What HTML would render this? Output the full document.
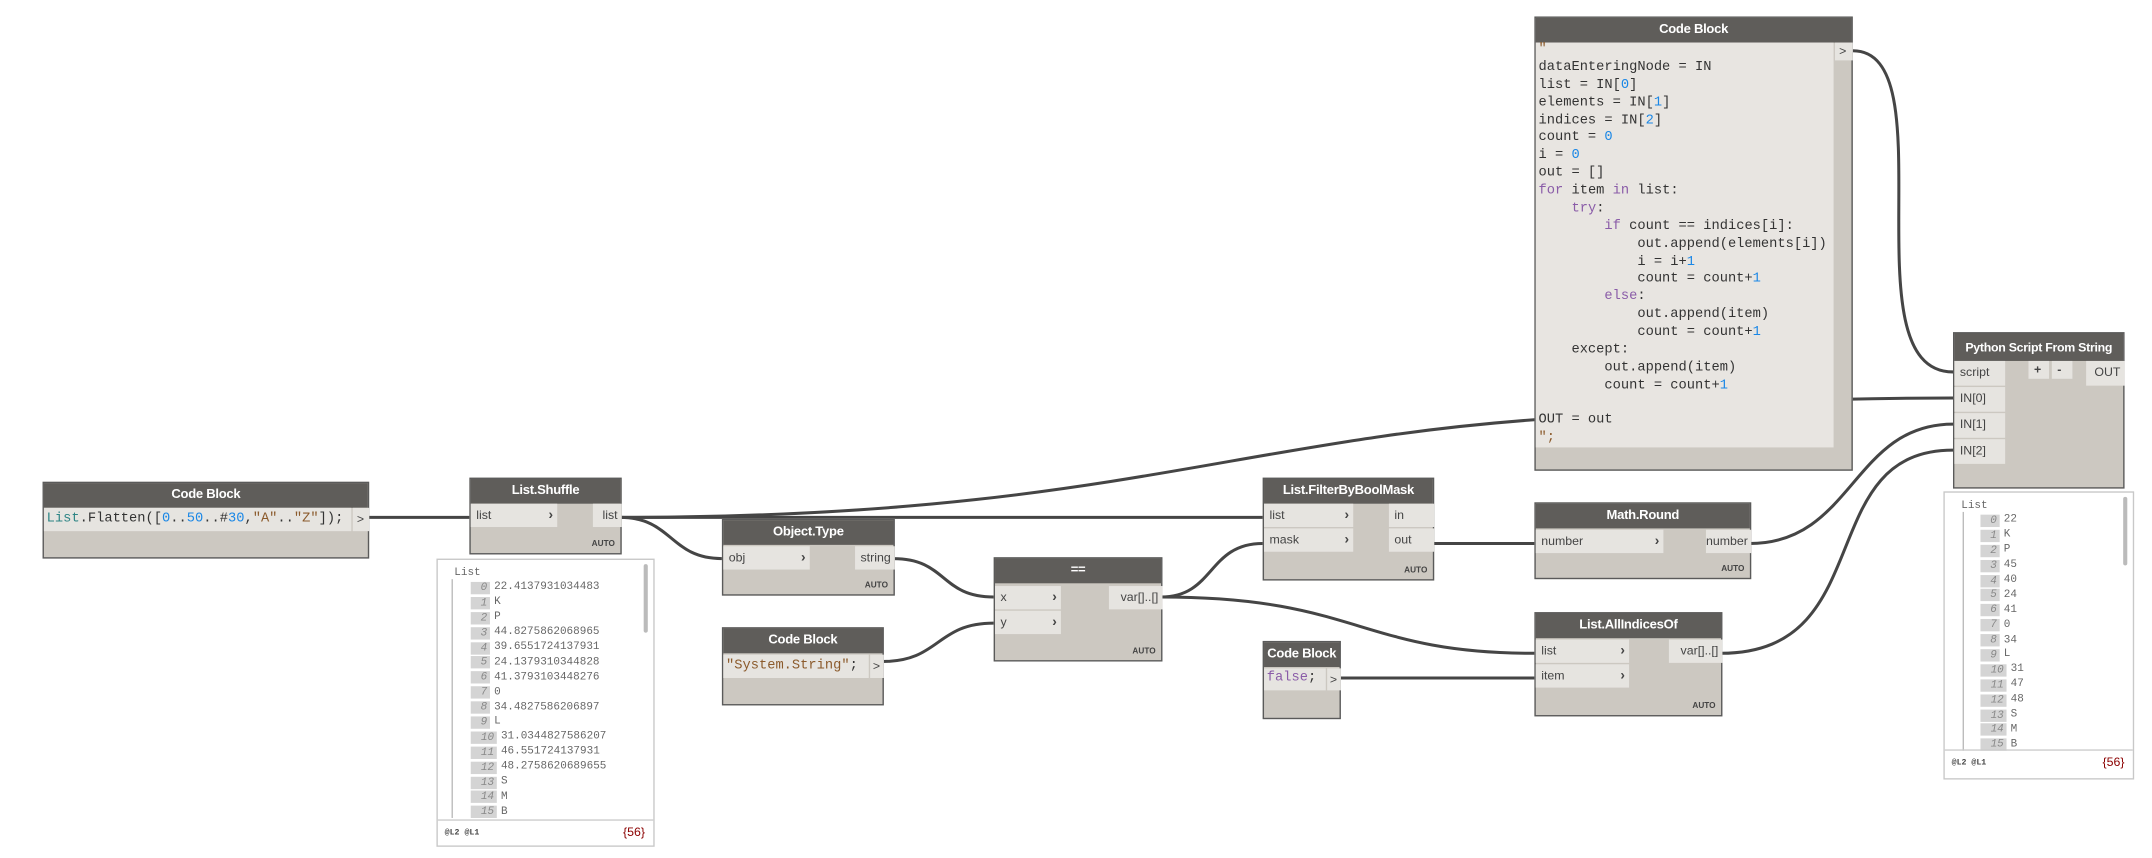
<!DOCTYPE html>
<html><head><meta charset="utf-8"><style>
html,body{margin:0;padding:0;background:#fff;overflow:hidden;width:2152px;height:858px}
#s{position:absolute;left:0;top:0;width:1568px;height:625px;transform:scale(1.37245);transform-origin:0 0;font-family:"Liberation Sans",sans-serif}
.n{position:absolute;background:#ccc8c1;border:1px solid #5a5a5a;box-sizing:border-box}
.h{position:absolute;left:0;right:0;top:0;height:18px;background:#5f5d5a;color:#fff;font-size:9.5px;font-weight:bold;text-align:center;line-height:18px;letter-spacing:-0.2px}
.p{position:absolute;background:#e6e4e0;font-size:9px;color:#444;line-height:17px;padding-left:4px;box-sizing:border-box}
.pr{position:absolute;background:#e6e4e0;font-size:9px;color:#444;line-height:17px;text-align:right;padding-right:3px;box-sizing:border-box}
.ch{position:absolute;right:3px;top:0;font-weight:bold;font-size:10px;color:#444}
.auto{position:absolute;right:4px;bottom:3px;font-size:6px;font-weight:bold;color:#444}
.m{font-family:"Liberation Mono",monospace}
.code{position:absolute;font-family:"Liberation Mono",monospace;font-size:10px;color:#333;white-space:pre;line-height:12.87px}
.b{color:#1a87e6}.s{color:#8b5a2b}.k{color:#8a5ca8}.t{color:#2e8585}
.pv{position:absolute;background:#fff;border:1px solid #c8c8c8;box-sizing:border-box;font-family:"Liberation Mono",monospace;font-size:8px;color:#666}
.pv .it{position:absolute;white-space:nowrap;line-height:10px}
.pv .row{display:flex;align-items:center;height:10.9px;white-space:nowrap}
.pv .ix{display:block;height:9px;line-height:9px;background:#d4d4d4;color:#888;font-style:italic;text-align:right;padding-right:2px;margin-right:3px;width:12px}
.pv .ix2{width:17px}
</style></head><body><div id="s">
<svg width="1568" height="625" style="position:absolute;left:0;top:0" fill="none" stroke="#454545" stroke-width="2.2">
<path d="M268,377 L342,377"/>
<path d="M452,377 L920,377"/>
<path d="M452,377 C490,377 488,407 526,407"/>
<path d="M452,377 C800,377 900,320 1130,305"/>
<path d="M1340,291 C1380,290 1400,290 1423,290"/>
<path d="M651,407 C690,407 685,435 724,435"/>
<path d="M643,482 C685,482 682,454 724,454"/>
<path d="M846,435 C885,435 880,396 920,396"/>
<path d="M846,435 C990,435 990,476 1118,476"/>
<path d="M976,494 L1118,494"/>
<path d="M1044,396 L1118,396"/>
<path d="M1275,396 C1350,396 1350,309 1423,309"/>
<path d="M1254,476 C1370,476 1320,328 1423,328"/>
<path d="M1350,37 C1420,37 1345,271 1423,271"/>
</svg>

<div class="n" style="left:31px;top:351px;width:238px;height:56px"><div class="h">Code Block</div>
<div class="p m" style="left:0;top:18px;width:224px;height:17px;font-size:10px;padding-left:2px;color:#333"><span class="t">List</span>.Flatten([<span class="b">0</span>..<span class="b">50</span>..#<span class="b">30</span>,<span class="s">"A"</span>..<span class="s">"Z"</span>]);</div>
<div class="p" style="left:225px;top:18px;width:12px;height:17px;padding-left:3px">&gt;</div></div>

<div class="n" style="left:342px;top:348px;width:111px;height:56px"><div class="h">List.Shuffle</div>
<div class="p" style="left:0;top:18px;width:63px;height:17px">list<span class="ch">›</span></div>
<div class="pr" style="left:89px;top:18px;width:21px;height:17px">list</div><div class="auto">AUTO</div></div>

<div class="pv" style="left:318px;top:407px;width:159px;height:210px">
<div style="position:absolute;left:10px;top:14px;width:1px;height:174px;background:#bbb"></div>
<div style="position:absolute;right:4px;top:3px;width:3px;height:50px;background:#bbb;border-radius:2px"></div>
<div class="it" style="left:12px;top:5px">List</div>
<div class="it" style="left:24px;top:15px">
<div class="row"><span class="ix">0</span>22.4137931034483</div>
<div class="row"><span class="ix">1</span>K</div>
<div class="row"><span class="ix">2</span>P</div>
<div class="row"><span class="ix">3</span>44.8275862068965</div>
<div class="row"><span class="ix">4</span>39.6551724137931</div>
<div class="row"><span class="ix">5</span>24.1379310344828</div>
<div class="row"><span class="ix">6</span>41.3793103448276</div>
<div class="row"><span class="ix">7</span>0</div>
<div class="row"><span class="ix">8</span>34.4827586206897</div>
<div class="row"><span class="ix">9</span>L</div>
<div class="row"><span class="ix ix2">10</span>31.0344827586207</div>
<div class="row"><span class="ix ix2">11</span>46.551724137931</div>
<div class="row"><span class="ix ix2">12</span>48.2758620689655</div>
<div class="row"><span class="ix ix2">13</span>S</div>
<div class="row"><span class="ix ix2">14</span>M</div>
<div class="row"><span class="ix ix2">15</span>B</div></div>
<div style="position:absolute;left:0;right:0;top:189px;height:1px;background:#ccc"></div>
<div class="it" style="left:5px;top:194px;font-size:6px;font-weight:bold;color:#444">@L2 @L1</div>
<div class="it" style="right:6px;top:193px;font-size:9px;color:#8b0000;font-family:'Liberation Sans',sans-serif">{56}</div>
</div>

<div class="n" style="left:526px;top:378px;width:126px;height:56px"><div class="h">Object.Type</div>
<div class="p" style="left:0;top:19px;width:63px;height:17px">obj<span class="ch">›</span></div>
<div class="pr" style="left:96px;top:19px;width:29px;height:17px">string</div><div class="auto">AUTO</div></div>

<div class="n" style="left:526px;top:457px;width:118px;height:57px"><div class="h">Code Block</div>
<div class="p m" style="left:0;top:19px;width:106px;height:17px;font-size:10px;padding-left:2px;color:#333"><span class="s">"System.String"</span>;</div>
<div class="p" style="left:107px;top:19px;width:10px;height:17px;padding-left:2px">&gt;</div></div>

<div class="n" style="left:724px;top:406px;width:123px;height:76px"><div class="h">==</div>
<div class="p" style="left:0;top:20px;width:48px;height:17px">x<span class="ch">›</span></div>
<div class="p" style="left:0;top:38px;width:48px;height:17px">y<span class="ch">›</span></div>
<div class="pr" style="left:83px;top:20px;width:39px;height:17px">var[]..[]</div><div class="auto">AUTO</div></div>

<div class="n" style="left:920px;top:348px;width:125px;height:75px"><div class="h">List.FilterByBoolMask</div>
<div class="p" style="left:0;top:18px;width:65px;height:17px">list<span class="ch">›</span></div>
<div class="p" style="left:0;top:36px;width:65px;height:17px">mask<span class="ch">›</span></div>
<div class="pr" style="left:91px;top:18px;width:33px;height:17px;text-align:left;padding-left:4px">in</div>
<div class="pr" style="left:91px;top:36px;width:33px;height:17px;text-align:left;padding-left:4px">out</div><div class="auto">AUTO</div></div>

<div class="n" style="left:920px;top:467px;width:57px;height:57px"><div class="h">Code Block</div>
<div class="p m" style="left:0;top:19px;width:45px;height:16px;font-size:10px;padding-left:2px;line-height:16px;color:#333"><span class="k">false</span>;</div>
<div class="p" style="left:46px;top:19px;width:10px;height:16px;padding-left:2px;line-height:16px">&gt;</div></div>

<div class="n" style="left:1118px;top:366px;width:158px;height:56px"><div class="h">Math.Round</div>
<div class="p" style="left:0;top:19px;width:93px;height:17px">number<span class="ch">›</span></div>
<div class="pr" style="left:124px;top:19px;width:33px;height:17px">number</div><div class="auto">AUTO</div></div>

<div class="n" style="left:1118px;top:446px;width:137px;height:76px"><div class="h">List.AllIndicesOf</div>
<div class="p" style="left:0;top:19px;width:68px;height:17px">list<span class="ch">›</span></div>
<div class="p" style="left:0;top:37px;width:68px;height:17px">item<span class="ch">›</span></div>
<div class="pr" style="left:97px;top:19px;width:39px;height:17px">var[]..[]</div><div class="auto">AUTO</div></div>

<div class="n" style="left:1118px;top:12px;width:232px;height:331px"><div class="h">Code Block</div>
<div style="position:absolute;left:0;top:18px;width:217px;height:295px;background:#e8e5e1"></div>
<div class="p" style="left:218px;top:18px;width:13px;height:13px;line-height:13px;padding-left:3px">&gt;</div>
<div class="code" style="left:2px;top:18px"><span class="s">"</span>
dataEnteringNode = IN
list = IN[<span class="b">0</span>]
elements = IN[<span class="b">1</span>]
indices = IN[<span class="b">2</span>]
count = <span class="b">0</span>
i = <span class="b">0</span>
out = []
<span class="k">for</span> item <span class="k">in</span> list:
    <span class="k">try</span>:
        <span class="k">if</span> count == indices[i]:
            out.append(elements[i])
            i = i+<span class="b">1</span>
            count = count+<span class="b">1</span>
        <span class="k">else</span>:
            out.append(item)
            count = count+<span class="b">1</span>
    except:
        out.append(item)
        count = count+<span class="b">1</span>

OUT = out
<span class="s">";</span></div></div>

<div class="n" style="left:1423px;top:242px;width:125px;height:114px"><div class="h" style="height:20px;line-height:20px;font-size:9px">Python Script From String</div>
<div class="p" style="left:0;top:20px;width:37px;height:18px">script</div>
<div class="p" style="left:0;top:39px;width:37px;height:18px">IN[0]</div>
<div class="p" style="left:0;top:58px;width:37px;height:18px">IN[1]</div>
<div class="p" style="left:0;top:77px;width:37px;height:18px">IN[2]</div>
<div class="p" style="left:54px;top:20px;width:15px;height:13px;line-height:12px;font-weight:bold">+</div>
<div class="p" style="left:71px;top:20px;width:15px;height:13px;line-height:12px;font-weight:bold">-</div>
<div class="pr" style="left:96px;top:20px;width:28px;height:18px">OUT</div></div>

<div class="pv" style="left:1416px;top:358px;width:139px;height:210px">
<div style="position:absolute;left:13px;top:14px;width:1px;height:174px;background:#bbb"></div>
<div style="position:absolute;right:4px;top:3px;width:3px;height:50px;background:#bbb;border-radius:2px"></div>
<div class="it" style="left:12px;top:5px">List</div>
<div class="it" style="left:26px;top:15px">
<div class="row"><span class="ix">0</span>22</div>
<div class="row"><span class="ix">1</span>K</div>
<div class="row"><span class="ix">2</span>P</div>
<div class="row"><span class="ix">3</span>45</div>
<div class="row"><span class="ix">4</span>40</div>
<div class="row"><span class="ix">5</span>24</div>
<div class="row"><span class="ix">6</span>41</div>
<div class="row"><span class="ix">7</span>0</div>
<div class="row"><span class="ix">8</span>34</div>
<div class="row"><span class="ix">9</span>L</div>
<div class="row"><span class="ix ix2">10</span>31</div>
<div class="row"><span class="ix ix2">11</span>47</div>
<div class="row"><span class="ix ix2">12</span>48</div>
<div class="row"><span class="ix ix2">13</span>S</div>
<div class="row"><span class="ix ix2">14</span>M</div>
<div class="row"><span class="ix ix2">15</span>B</div></div>
<div style="position:absolute;left:0;right:0;top:187px;height:1px;background:#ccc"></div>
<div class="it" style="left:5px;top:192px;font-size:6px;font-weight:bold;color:#444">@L2 @L1</div>
<div class="it" style="right:6px;top:191px;font-size:9px;color:#8b0000;font-family:'Liberation Sans',sans-serif">{56}</div>
</div>
</div></body></html>
